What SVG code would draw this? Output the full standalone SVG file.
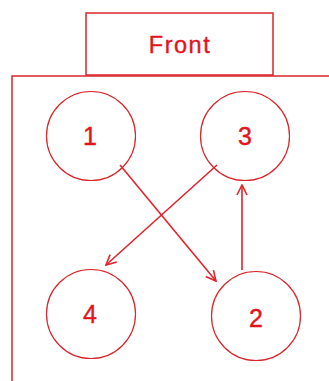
<svg xmlns="http://www.w3.org/2000/svg" width="329" height="381" viewBox="0 0 329 381">
<defs>
<style>
.box{fill:none;stroke:#d9262b;stroke-width:1.5}
.node{fill:#fff;stroke:#d9262b;stroke-width:1.2}
.lbl{font-family:"Liberation Sans",Arial,sans-serif;font-size:25px;fill:#e2141c;stroke:#e2141c;stroke-width:0.4;text-anchor:middle}
.title{font-size:23.5px;letter-spacing:1.5px}
.edge{stroke:#e2242b;stroke-width:1.6;fill:none}
</style>
<marker id="arr" viewBox="0 0 12 12" refX="11" refY="6" markerWidth="12" markerHeight="12" markerUnits="userSpaceOnUse" orient="auto">
<path d="M1,1 L11,6 L1,11" fill="none" stroke="#e2242b" stroke-width="1.6"/>
</marker>
</defs>
<rect width="329" height="381" fill="#fff"/>
<rect class="box" x="12" y="76" width="330" height="320"/>
<g id="front">
<rect class="box" x="86" y="13" width="187" height="62"/>
<text class="lbl title" x="180" y="53">Front</text>
</g>
<g id="node1"><circle class="node" cx="91" cy="136" r="44.5"/><text class="lbl" x="90" y="145">1</text></g>
<g id="node3"><circle class="node" cx="245" cy="136" r="44.5"/><text class="lbl" x="245" y="145">3</text></g>
<g id="node4"><circle class="node" cx="91" cy="314" r="44.5"/><text class="lbl" x="90" y="323">4</text></g>
<g id="node2"><circle class="node" cx="256" cy="316" r="44.5"/><text class="lbl" x="256" y="327">2</text></g>
<g id="connectors">
<line class="edge" x1="120" y1="165" x2="216" y2="281" marker-end="url(#arr)"/>
<line class="edge" x1="217" y1="165" x2="106" y2="265" marker-end="url(#arr)"/>
<line class="edge" x1="242" y1="270" x2="242" y2="185" marker-end="url(#arr)"/>
</g>
</svg>
